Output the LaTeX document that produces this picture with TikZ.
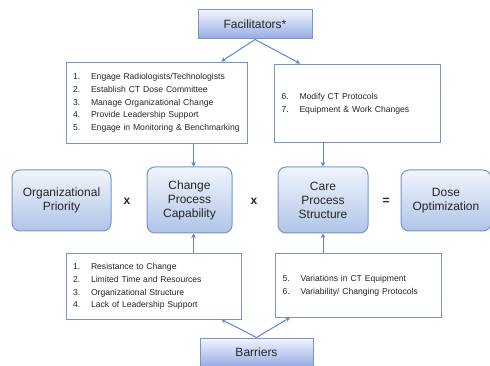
\documentclass[tikz,border=0pt]{standalone}
\usepackage{fontspec}
\setmainfont{Liberation Sans}
\usetikzlibrary{arrows.meta,calc}
\definecolor{edgeblue}{HTML}{7595CC}
\definecolor{arrowblue}{HTML}{5B87CF}
\definecolor{fillhi}{HTML}{F1F5FC}
\definecolor{filllo}{HTML}{B0C4E7}
\definecolor{inkgray}{HTML}{262626}
\tikzset{
  factor/.style={draw=edgeblue, line width=1pt, rounded corners=8pt,
    top color=fillhi, bottom color=filllo, inner sep=0pt,
    align=center, font=\fontsize{12}{14}\selectfont, text=inkgray},
  header/.style={draw=edgeblue, line width=1pt,
    top color=fillhi, bottom color=filllo!90!blue!80!edgeblue, inner sep=0pt,
    font=\fontsize{12}{14}\selectfont, text=inkgray},
  listbox/.style={draw=edgeblue, line width=0.9pt, fill=white,
    inner xsep=7pt, inner ysep=0pt, align=left,
    font=\fontsize{8.6}{12.9}\selectfont, text=inkgray},
  flow/.style={draw=arrowblue, line width=1pt,
    -{Stealth[length=4.5pt,width=4.5pt]}},
  op/.style={font=\fontsize{12}{14}\selectfont\bfseries, text=inkgray}
}
\newcommand{\itemlist}[1]{\begin{tabular}{@{}p{18pt}@{}l@{}}#1\end{tabular}}
\begin{document}
\begin{tikzpicture}[x=1pt,y=-1pt]
  \clip (0,0) rectangle (490,366);
  \fill[white] (0,0) rectangle (490,366);

  % upper and lower driver nodes
  \node[header, minimum width=114pt, minimum height=29pt] (fac) at (255,24.5) {Facilitators*};
  \node[header, minimum width=113pt, minimum height=29pt] (bar) at (256.5,352.5) {Barriers};

  % facilitator lists
  \node[listbox, text width=167pt, minimum height=81pt] (fl) at (156.5,102.5) {\itemlist{
    1. & Engage Radiologists/Technologists\\
    2. & Establish CT Dose Committee\\
    3. & Manage Organizational Change\\
    4. & Provide Leadership Support\\
    5. & Engage in Monitoring \& Benchmarking}};
  \node[listbox, text width=152pt, minimum height=78pt] (fr) at (357.5,103) {\itemlist{
    6. & Modify CT Protocols\\
    7. & Equipment \& Work Changes}};

  % barrier lists
  \node[listbox, text width=161pt, minimum height=66pt] (bl) at (153.5,286) {\itemlist{
    1. & Resistance to Change\\
    2. & Limited Time and Resources\\
    3. & Organizational Structure\\
    4. & Lack of Leadership Support}};
  \node[listbox, text width=152pt, minimum height=64pt] (br) at (358.5,285) {\itemlist{
    5. & Variations in CT Equipment\\
    6. & Variability/ Changing Protocols}};

  % the product of factors
  \node[factor, minimum width=99pt, minimum height=61pt] (op) at (61.5,200.5) {Organizational\\Priority};
  \node[factor, minimum width=85pt, minimum height=66pt] (cp) at (189.5,200) {Change\\Process\\Capability};
  \node[factor, minimum width=90pt, minimum height=66pt] (cs) at (323,200) {Care\\Process\\Structure};
  \node[factor, minimum width=90pt, minimum height=61pt] (do) at (446,200.5) {Dose\\Optimization};

  \node[op] (x1) at (127,201) {x};
  \node[op] (x2) at (254,201) {x};
  \node[op] (eq) at (386,201) {=};

  % connectors
  \draw[flow] (fac.south) -- ($(fl.north west)!0.856!(fl.north east)$);
  \draw[flow] (fac.south) -- ($(fr.north west)!0.156!(fr.north east)$);
  \draw[flow] ([xshift=4pt]cp.north |- fl.south) -- ([xshift=4pt]cp.north);
  \draw[flow] (cs.north |- fr.south) -- (cs.north);
  \draw[flow] ([xshift=4pt]cp.south |- bl.north) -- ([xshift=4pt]cp.south);
  \draw[flow] (cs.south |- br.north) -- (cs.south);
  \draw[flow] (bar.north) -- ($(bl.south west)!0.886!(bl.south east)$);
  \draw[flow] (bar.north) -- ($(br.south west)!0.09!(br.south east)$);
\end{tikzpicture}
\end{document}
